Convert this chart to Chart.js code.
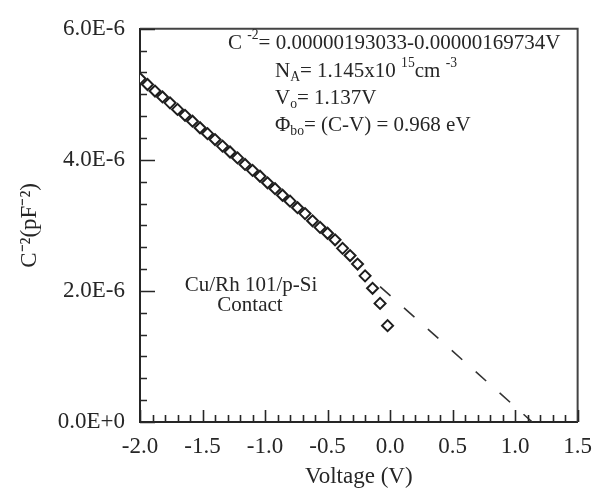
<!DOCTYPE html>
<html>
<head>
<meta charset="utf-8">
<script src="https://cdn.jsdelivr.net/npm/chart.js@4/dist/chart.umd.min.js"></script>
<style>
  html, body { margin: 0; padding: 0; background: #ffffff; }
  #wrap { width: 603px; height: 493px; }
</style>
</head>
<body>
<div id="wrap"><canvas id="c" width="603" height="493"></canvas></div>
<script>
// ---- data ----
const voltage = [-2.00, -1.94, -1.88, -1.82, -1.76, -1.70, -1.64, -1.58, -1.52, -1.46,
                 -1.40, -1.34, -1.28, -1.22, -1.16, -1.10, -1.04, -0.98, -0.92, -0.86,
                 -0.80, -0.74, -0.68, -0.62, -0.56, -0.50, -0.44, -0.38, -0.32, -0.26,
                 -0.20, -0.14, -0.08, -0.02];
const invC2 = [5.24e-6, 5.15e-6, 5.05e-6, 4.96e-6, 4.87e-6, 4.77e-6, 4.68e-6, 4.59e-6, 4.49e-6, 4.40e-6,
               4.31e-6, 4.21e-6, 4.12e-6, 4.03e-6, 3.93e-6, 3.84e-6, 3.75e-6, 3.65e-6, 3.56e-6, 3.46e-6,
               3.37e-6, 3.27e-6, 3.18e-6, 3.07e-6, 2.97e-6, 2.88e-6, 2.78e-6, 2.65e-6, 2.54e-6, 2.41e-6,
               2.23e-6, 2.04e-6, 1.81e-6, 1.47e-6];
const fitVoltage = [-0.08, 1.137];
const fitInvC2 = [2.066e-6, 0];

const xTicks = [-2.0, -1.5, -1.0, -0.5, 0.0, 0.5, 1.0, 1.5];
const xTickLabels = ['-2.0', '-1.5', '-1.0', '-0.5', '0.0', '0.5', '1.0', '1.5'];
const yTicks = [0, 2e-6, 4e-6, 6e-6];
const yTickLabels = ['0.0E+0', '2.0E-6', '4.0E-6', '6.0E-6'];
const xMinorStep = 0.1;
const yMinorStep = 2e-6 / 6;

const INK = '#262626';
const SERIF = '"Liberation Serif", "Times New Roman", serif';

function runsText(ctx, x, y, runs, size) {
  let cx = x;
  for (const r of runs) {
    let fs = size, dy = 0;
    if (r.s === 'sup') { fs = size * 0.65; dy = -size * 0.38; }
    if (r.s === 'sub') { fs = size * 0.65; dy = size * 0.32; }
    ctx.font = fs + 'px ' + SERIF;
    ctx.fillText(r.t, cx, y + dy);
    cx += ctx.measureText(r.t).width;
  }
}

const decorPlugin = {
  id: 'decor',
  afterDraw(chart) {
    const ctx = chart.ctx;
    const a = chart.chartArea;
    const xs = chart.scales.x, ys = chart.scales.y;
    ctx.save();
    // frame (top / right)
    ctx.strokeStyle = '#444';
    ctx.lineWidth = 2;
    ctx.beginPath();
    ctx.moveTo(a.left, a.top); ctx.lineTo(a.right, a.top); ctx.lineTo(a.right, a.bottom);
    ctx.stroke();
    // inward tick marks
    ctx.strokeStyle = INK;
    ctx.lineWidth = 1.6;
    ctx.beginPath();
    const nx = Math.round((xs.max - xs.min) / xMinorStep);
    for (let i = 0; i <= nx; i++) {
      const v = xs.min + i * xMinorStep;
      const px = Math.round(xs.getPixelForValue(v)) + 0.5;
      const major = i % 5 === 0;
      ctx.moveTo(px, a.bottom);
      ctx.lineTo(px, a.bottom - (major ? 12 : 7));
    }
    const ny = Math.round((ys.max - ys.min) / yMinorStep);
    for (let i = 0; i <= ny; i++) {
      const v = ys.min + i * yMinorStep;
      const py = Math.round(ys.getPixelForValue(v)) + 0.5;
      const major = i % 6 === 0;
      ctx.moveTo(a.left, py);
      ctx.lineTo(a.left + (major ? 15 : 7), py);
    }
    ctx.stroke();
    // annotation text
    ctx.fillStyle = INK;
    ctx.textBaseline = 'middle';
    ctx.textAlign = 'left';
    const fs = 21;
    runsText(ctx, a.left + 88, 43, [{t: 'C '}, {t: '-2', s: 'sup'}, {t: '= 0.00000193033-0.00000169734V'}], fs);
    runsText(ctx, a.left + 135, 71, [{t: 'N'}, {t: 'A', s: 'sub'}, {t: '= 1.145x10 '}, {t: '15', s: 'sup'}, {t: 'cm '}, {t: '-3', s: 'sup'}], fs);
    runsText(ctx, a.left + 135, 98, [{t: 'V'}, {t: 'o', s: 'sub'}, {t: '= 1.137V'}], fs);
    runsText(ctx, a.left + 135, 125, [{t: 'Φ'}, {t: 'bo', s: 'sub'}, {t: '= (C-V) = 0.968 eV'}], fs);
    ctx.textAlign = 'center';
    ctx.font = fs + 'px ' + SERIF;
    ctx.fillText('Cu/Rh 101/p-Si', a.left + 111, 285);
    ctx.fillText('Contact', a.left + 110, 305);
    ctx.restore();
  }
};

new Chart(document.getElementById('c'), {
  type: 'scatter',
  data: {
    datasets: [
      {
        label: 'fit',
        data: fitVoltage.map((v, i) => ({x: v, y: fitInvC2[i]})),
        showLine: true,
        borderColor: '#333',
        borderWidth: 1.6,
        borderDash: [14, 18],
        pointRadius: 0,
        fill: false
      },
      {
        label: 'C-2',
        data: voltage.map((v, i) => ({x: v, y: invC2[i]})),
        showLine: false,
        pointStyle: 'rectRot',
        pointRadius: 5.5,
        pointBorderWidth: 2,
        pointBorderColor: '#1e1e1e',
        pointBackgroundColor: '#ffffff'
      }
    ]
  },
  options: {
    responsive: false,
    animation: false,
    events: [],
    layout: { padding: { top: 18, right: 16, left: 0, bottom: 0 } },
    plugins: { legend: { display: false }, tooltip: { enabled: false } },
    scales: {
      x: {
        type: 'linear',
        min: -2.0,
        max: 1.5,
        afterBuildTicks: s => { s.ticks = xTicks.map(v => ({value: v})); },
        afterFit: s => { s.height = 71; },
        grid: { display: false, drawTicks: false },
        border: { display: true, color: INK, width: 2 },
        ticks: {
          color: INK,
          padding: 11,
          maxRotation: 0,
          font: { family: SERIF, size: 23 },
          callback: (v, i) => xTickLabels[i]
        },
        title: {
          display: true,
          text: 'Voltage (V)',
          color: INK,
          font: { family: SERIF, size: 23 },
          padding: { top: 0, bottom: 2 }
        }
      },
      y: {
        type: 'linear',
        min: 0,
        max: 6e-6,
        afterBuildTicks: s => { s.ticks = yTicks.map(v => ({value: v})); },
        afterFit: s => { s.width = 140; },
        grid: { display: false, drawTicks: false },
        border: { display: true, color: INK, width: 2 },
        ticks: {
          color: INK,
          padding: 15,
          font: { family: SERIF, size: 23 },
          callback: (v, i) => yTickLabels[i]
        },
        title: {
          display: true,
          text: 'C⁻²(pF⁻²)',
          color: INK,
          font: { family: SERIF, size: 23 },
          padding: { top: 16, bottom: 0 }
        }
      }
    }
  },
  plugins: [decorPlugin]
});
</script>
</body>
</html>
